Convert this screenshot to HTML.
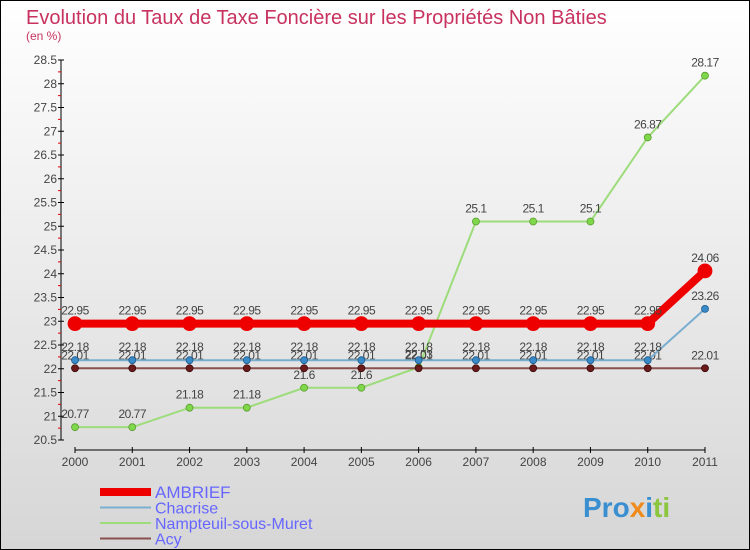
<!DOCTYPE html>
<html><head><meta charset="utf-8"><style>
body{margin:0;}
svg{display:block;font-family:"Liberation Sans",sans-serif;}
</style></head><body>
<svg id="c" width="750" height="550" viewBox="0 0 750 550">
<defs><linearGradient id="bg" x1="0" y1="0" x2="0" y2="1"><stop offset="0" stop-color="#ffffff"/><stop offset="1" stop-color="#d6d6d6"/></linearGradient></defs>
<rect x="0.5" y="0.5" width="749" height="549" fill="url(#bg)" stroke="#000"/>
<text x="26" y="24" font-size="20" fill="#c8325f">Evolution du Taux de Taxe Foncière sur les Propriétés Non Bâties</text>
<text x="26" y="40" font-size="12" fill="#c8325f">(en %)</text>
<g id="axes"></g><g id="series"></g><g id="legend"></g>
<text x="583" y="517" font-size="28" font-weight="bold" fill="#3a8fd0">Pro<tspan fill="#f08a1c">x</tspan><tspan fill="#3a8fd0">i</tspan><tspan fill="#8cc63f">ti</tspan></text>
</svg>
<script>
const years=['2000','2001','2002','2003','2004','2005','2006','2007','2008','2009','2010','2011'];
const yTicks=[20.5,21,21.5,22,22.5,23,23.5,24,24.5,25,25.5,26,26.5,27,27.5,28,28.5];
const ambrief=[22.95,22.95,22.95,22.95,22.95,22.95,22.95,22.95,22.95,22.95,22.95,24.06];
const chacrise=[22.18,22.18,22.18,22.18,22.18,22.18,22.18,22.18,22.18,22.18,22.18,23.26];
const nampteuil=[20.77,20.77,21.18,21.18,21.6,21.6,22.03,25.1,25.1,25.1,26.87,28.17];
const acy=[22.01,22.01,22.01,22.01,22.01,22.01,22.01,22.01,22.01,22.01,22.01,22.01];
const NS='http://www.w3.org/2000/svg';
const X=i=>75+i*(630/11);
const Y=v=>440-(v-20.5)*47.5;
function mk(t,a,p){const e=document.createElementNS(NS,t);for(const k in a)e.setAttribute(k,a[k]);p.appendChild(e);return e;}
const ax=document.getElementById('axes');
let l=mk('line',{x1:61,y1:Y(28.5),x2:61,y2:Y(20.5),stroke:'#000'},ax);


yTicks.forEach((v,i)=>{
 mk('line',{x1:58,x2:64,y1:Y(v),y2:Y(v),stroke:'#000'},ax);
 if(i<yTicks.length-1)mk('line',{x1:58,x2:61,y1:Y(v+0.25),y2:Y(v+0.25),stroke:'#d00'},ax);
 const t=mk('text',{x:57,y:Y(v)+4,'text-anchor':'end','font-size':12,fill:'#444'},ax);t.textContent=String(v);
 
 
});
l=mk('line',{x1:75,y1:450,x2:705,y2:450,stroke:'#000'},ax);


years.forEach((y,i)=>{
 mk('line',{x1:X(i),x2:X(i),y1:447,y2:453,stroke:'#000'},ax);
 const t=mk('text',{x:X(i),y:466,'text-anchor':'middle','font-size':12,fill:'#444'},ax);t.textContent=y;
 
 
});
const sg=document.getElementById('series');
const defs=[
 {d:nampteuil,c:'#9ddc7a',f:'#7ed84a',s:'#5a9a30',w:2,r:3.5,n:'nampteuil-sous-muret'},
 {d:acy,c:'#8a5050',f:'#6a1a1a',s:'#3a0a0a',w:2,r:3.5,n:'acy'},
 {d:chacrise,c:'#7aaed0',f:'#3a8ac8',s:'#1a5a90',w:2,r:3.5,n:'chacrise'},
 {d:ambrief,c:'#ee0000',f:'#ee0000',s:'#ee0000',w:8,r:7,n:'ambrief'}
];
defs.forEach(s=>{
 const g=mk('g',{},sg);
 
 
 mk('polyline',{points:s.d.map((v,i)=>X(i)+','+Y(v)).join(' '),fill:'none',stroke:s.c,'stroke-width':s.w},g);
 s.d.forEach((v,i)=>{
  const p=mk('circle',{cx:X(i),cy:Y(v),r:s.r,fill:s.f,stroke:s.s,'stroke-width':0.8},g);
  
  
  const t=mk('text',{x:X(i),y:Y(v)-9,'text-anchor':'middle','font-size':12,fill:'#444','letter-spacing':'-0.5'},g);
  t.textContent=String(v);
  
  
 });
});
const lg=document.getElementById('legend');
const le=[['AMBRIEF','#ee0000',8],['Chacrise','#7aaed0',2],['Nampteuil-sous-Muret','#9ddc7a',2],['Acy','#8a5050',2]];
le.forEach((e,i)=>{
 const y=492+i*15.5;
 const g=mk('g',{},lg);
 
 
 mk('line',{x1:100,x2:151,y1:y,y2:y,stroke:e[1],'stroke-width':e[2]},g);
 const t=mk('text',{x:155,y:y+6,'font-size':i==0?17:16,fill:'#6666ff'},g);t.textContent=e[0];
});
</script>
</body></html>
